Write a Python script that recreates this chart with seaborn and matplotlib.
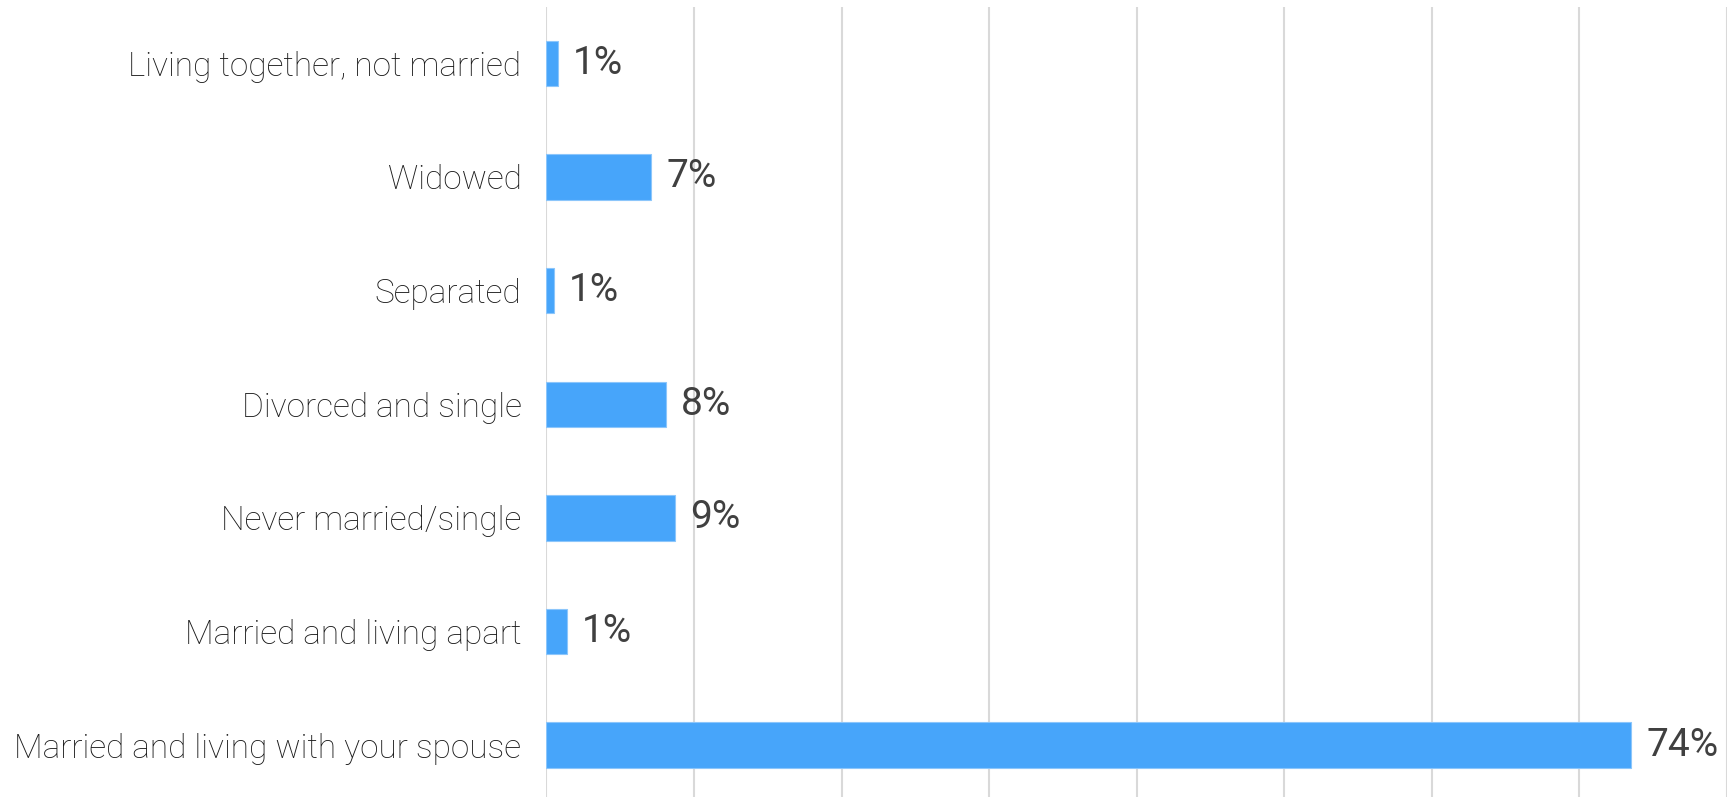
import numpy as np
import pandas as pd
import seaborn as sns
import matplotlib.pyplot as plt

# values (percent)
categories = ['Living together, not married', 'Widowed', 'Separated',
              'Divorced and single', 'Never married/single',
              'Married and living apart', 'Married and living with your spouse']
values = [0.76, 7.1, 0.5, 8.1, 8.7, 1.37, 73.5]
labels = ['1%', '7%', '1%', '8%', '9%', '1%', '74%']

df = pd.DataFrame({'status': categories, 'pct': values})

sns.set_theme(style='white')
plt.rcParams['font.family'] = ['Roboto', 'DejaVu Sans']

fig = plt.figure(figsize=(17.32, 7.97), dpi=100)
ax = fig.add_axes([0.3155, 0.0, 0.997 - 0.3155, 0.9918])

sns.barplot(data=df, y='status', x='pct', orient='h', color='#47a5fa',
            saturation=1, width=0.4, edgecolor='#8cc6fb', linewidth=0.8, ax=ax)

ax.set_xlim(0, 80)
ax.set_ylim(6.456, -0.5)
ax.set_xticks(np.arange(0, 81, 10))
ax.xaxis.grid(True, color='#d9d9d9', linewidth=1.5)
ax.set_axisbelow(True)
ax.tick_params(axis='x', length=0, labelbottom=False)
ax.tick_params(axis='y', length=0, pad=18)
for s in ax.spines.values():
    s.set_visible(False)
ax.set_xlabel('')
ax.set_ylabel('')
for t in ax.get_yticklabels():
    t.set_fontsize(24)
    t.set_fontweight('light')
    t.set_color('#1a1a1a')

for i, (v, lab) in enumerate(zip(values, labels)):
    ax.annotate(lab, (v, i), xytext=(11, 0), textcoords='offset points',
                va='center', ha='left', fontsize=28, color='#404040')

fig.savefig('out.png', dpi=100)
